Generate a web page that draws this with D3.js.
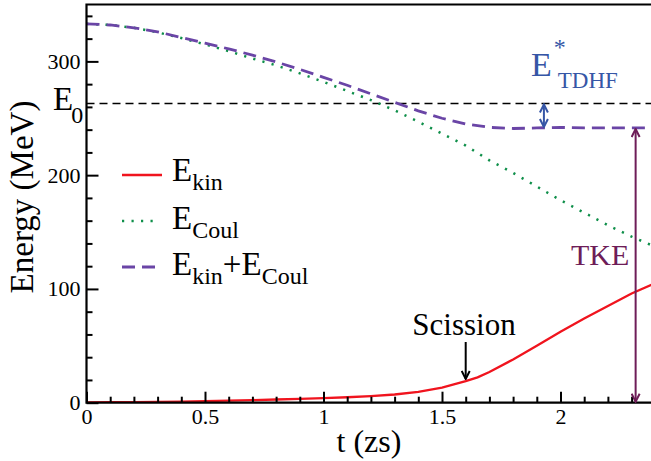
<!DOCTYPE html>
<html>
<head>
<meta charset="utf-8">
<script src="https://cdn.jsdelivr.net/npm/d3@7"></script>
<style>
  body { margin: 0; background: #fff; }
  svg { display: block; }
</style>
</head>
<body>
<div class="graph"></div>
<script>
// time in zs
var times = [0, 0.1, 0.2, 0.3, 0.4, 0.5, 0.6, 0.7, 0.8, 0.9, 1.0, 1.1, 1.2, 1.3, 1.4, 1.5, 1.6, 1.65, 1.7, 1.8, 1.9, 2.0, 2.1, 2.2, 2.3, 2.4];
var eKin = [0.3, 0.4, 0.5, 0.7, 1.0, 1.4, 1.8, 2.3, 2.8, 3.4, 4.0, 4.8, 5.8, 7.2, 9.5, 13.2, 19, 22.3, 27, 38, 50, 62.4, 74, 85, 96, 105];
var eCoul = [333, 332, 329.5, 325.5, 320.5, 315, 309, 302.5, 296.5, 289.5, 282, 274, 266, 257, 247, 236.5, 226, 219.5, 213, 202, 190, 178, 167, 156, 146, 137];
var eTot = [333, 332, 329.5, 326, 321, 316, 311, 305.5, 299.5, 293, 286, 279, 271.5, 264, 256.5, 250, 245, 243.5, 242, 241, 241.5, 242, 241.5, 241.5, 241.5, 241.5];

var e0 = 263;
var scissionT = 1.6;
var tkeT = 2.317;
var tdhfT = 1.93;

var xTicks = [0, 0.5, 1, 1.5, 2];
var xTickLabels = ['0', '0.5', '1', '1.5', '2'];
var yTicks = [0, 100, 200, 300];

var width = 651,
    height = 461;
var serif = '"Liberation Serif", "Times New Roman", Times, serif';

var x = d3.scaleLinear().domain([0, 2.4]).range([86.5, 655.3]);
var y = d3.scaleLinear().domain([0, 350]).range([402.7, 4.5]);

var svg = d3.select('.graph').append('svg')
    .attr('width', width)
    .attr('height', height)
    .style('font-family', serif);

var defs = svg.append('defs');
defs.append('clipPath').attr('id', 'clip')
    .append('rect')
    .attr('x', x(0)).attr('y', y(350))
    .attr('width', x(2.4) - x(0)).attr('height', y(0) - y(350));

// open arrow heads
function marker(id, color) {
    defs.append('marker')
        .attr('id', id)
        .attr('viewBox', '0 0 10 10')
        .attr('refX', 9).attr('refY', 5)
        .attr('markerWidth', 10).attr('markerHeight', 10)
        .attr('markerUnits', 'userSpaceOnUse')
        .attr('orient', 'auto-start-reverse')
        .append('path')
        .attr('d', 'M1,1 L9,5 L1,9')
        .attr('fill', 'none')
        .attr('stroke', color)
        .attr('stroke-width', 2);
}
marker('arrBlack', '#000');
marker('arrBlue', '#3656a6');
marker('arrTke', '#6e1d58');

// E0 reference line
svg.append('line')
    .attr('x1', x(0)).attr('x2', width)
    .attr('y1', y(e0)).attr('y2', y(e0))
    .attr('stroke', '#000')
    .attr('stroke-width', 1.6)
    .attr('stroke-dasharray', '8,5');

var line = d3.line()
    .x(function (d, i) { return x(times[i]); })
    .y(function (d) { return y(d); });

var curves = svg.append('g').attr('clip-path', 'url(#clip)');

curves.append('path').datum(eCoul)
    .attr('d', line)
    .attr('fill', 'none')
    .attr('stroke', '#0f8f4a')
    .attr('stroke-width', 2.5)
    .attr('stroke-dasharray', '2.2,7.3');

curves.append('path').datum(eKin)
    .attr('d', line)
    .attr('fill', 'none')
    .attr('stroke', '#f0141e')
    .attr('stroke-width', 2.3);

curves.append('path').datum(eTot)
    .attr('d', line)
    .attr('fill', 'none')
    .attr('stroke', '#6a45a6')
    .attr('stroke-width', 2.8)
    .attr('stroke-dasharray', '13,7');

// axes
var xMinor = d3.range(0, 2.41, 0.1).filter(function (t) { return Math.abs(t * 2 - Math.round(t * 2)) > 1e-6; });
var yMinor = d3.range(0, 351, 20).filter(function (v) { return v % 100 !== 0; });

function styleAxis(g) {
    g.attr('font-family', null);
    g.select('.domain').remove();
    g.selectAll('line').attr('stroke-width', 2);
    g.selectAll('text').attr('font-size', 22).attr('fill', '#000');
}

var axisG = svg.append('g');

axisG.append('g')
    .attr('transform', 'translate(0,' + y(0) + ')')
    .call(d3.axisBottom(x).tickValues(xMinor).tickSize(-6).tickFormat(''))
    .call(styleAxis);

axisG.append('g')
    .attr('transform', 'translate(0,' + y(0) + ')')
    .call(d3.axisBottom(x).tickValues(xTicks).tickSize(-11).tickPadding(6)
        .tickFormat(function (d, i) { return xTickLabels[i]; }))
    .call(styleAxis);

axisG.append('g')
    .attr('transform', 'translate(' + x(0) + ',0)')
    .call(d3.axisLeft(y).tickValues(yMinor).tickSize(-6).tickFormat(''))
    .call(styleAxis);

axisG.append('g')
    .attr('transform', 'translate(' + x(0) + ',0)')
    .call(d3.axisLeft(y).tickValues(yTicks).tickSize(-12).tickPadding(6).tickFormat(d3.format('d')))
    .call(styleAxis);

// frame: left, bottom, top
axisG.append('path')
    .attr('d', 'M' + width + ',' + y(350) + 'H' + x(0) + 'V' + y(0) + 'H' + width)
    .attr('fill', 'none')
    .attr('stroke', '#000')
    .attr('stroke-width', 2.2);

// axis titles
svg.append('text')
    .attr('x', 369).attr('y', 452)
    .attr('text-anchor', 'middle')
    .attr('font-size', 32)
    .text('t (zs)');

svg.append('text')
    .attr('transform', 'translate(33,197) rotate(-90)')
    .attr('text-anchor', 'middle')
    .attr('font-size', 33)
    .text('Energy (MeV)');

// E0 label
var e0Label = svg.append('text')
    .attr('x', 53).attr('y', y(e0) + 7)
    .attr('font-size', 33);
e0Label.append('tspan').text('E');
e0Label.append('tspan').attr('font-size', 24).attr('dy', 13).attr('dx', -2).text('0');

// legend
var legendY = [175, 221, 267];
var lg = svg.append('g');
lg.append('line').attr('x1', 122).attr('x2', 162).attr('y1', legendY[0]).attr('y2', legendY[0])
    .attr('stroke', '#f0141e').attr('stroke-width', 2.3);
lg.append('line').attr('x1', 122).attr('x2', 158).attr('y1', legendY[1]).attr('y2', legendY[1])
    .attr('stroke', '#0f8f4a').attr('stroke-width', 2.5).attr('stroke-dasharray', '2.2,7.3');
lg.append('line').attr('x1', 122).attr('x2', 156).attr('y1', legendY[2]).attr('y2', legendY[2])
    .attr('stroke', '#6a45a6').attr('stroke-width', 2.8).attr('stroke-dasharray', '13,7');

function subLabel(xp, yp, parts) {
    var t = lg.append('text').attr('x', xp).attr('y', yp).attr('font-size', 33);
    parts.forEach(function (p) {
        var s = t.append('tspan').text(p[0]);
        if (p[1] === 'sub') s.attr('font-size', 24).attr('dy', 9);
        if (p[1] === 'up') s.attr('dy', -9);
    });
    return t;
}
subLabel(172, 181, [['E'], ['kin', 'sub']]);
subLabel(172, 229, [['E'], ['Coul', 'sub']]);
subLabel(172, 275, [['E'], ['kin', 'sub'], ['+', 'up'], ['E'], ['Coul', 'sub']]);

// scission annotation
svg.append('text')
    .attr('x', 464).attr('y', 335)
    .attr('text-anchor', 'middle')
    .attr('font-size', 31)
    .text('Scission');
svg.append('line')
    .attr('x1', x(scissionT)).attr('x2', x(scissionT))
    .attr('y1', 342).attr('y2', y(20) - 1)
    .attr('stroke', '#000').attr('stroke-width', 2)
    .attr('marker-end', 'url(#arrBlack)');

// E*_TDHF annotation
svg.append('line')
    .attr('x1', x(tdhfT)).attr('x2', x(tdhfT))
    .attr('y1', y(e0) + 1).attr('y2', y(241.5) - 1)
    .attr('stroke', '#3656a6').attr('stroke-width', 2)
    .attr('marker-start', 'url(#arrBlue)')
    .attr('marker-end', 'url(#arrBlue)');
var tdhf = svg.append('text').attr('x', 531).attr('y', 76).attr('font-size', 34).attr('fill', '#3656a6');
tdhf.append('tspan').text('E');
tdhf.append('tspan').attr('font-size', 24).attr('dy', -21).attr('dx', 2).text('*');
tdhf.append('tspan').attr('font-size', 23).attr('dy', 33).attr('dx', -8).text('TDHF');

// TKE annotation
svg.append('line')
    .attr('x1', x(tkeT)).attr('x2', x(tkeT))
    .attr('y1', y(241.5) + 1).attr('y2', y(0) - 1)
    .attr('stroke', '#6e1d58').attr('stroke-width', 2)
    .attr('marker-start', 'url(#arrTke)')
    .attr('marker-end', 'url(#arrTke)');
svg.append('text')
    .attr('x', 571).attr('y', 265)
    .attr('font-size', 30)
    .attr('fill', '#6e1d58')
    .text('TKE');
</script>
</body>
</html>
